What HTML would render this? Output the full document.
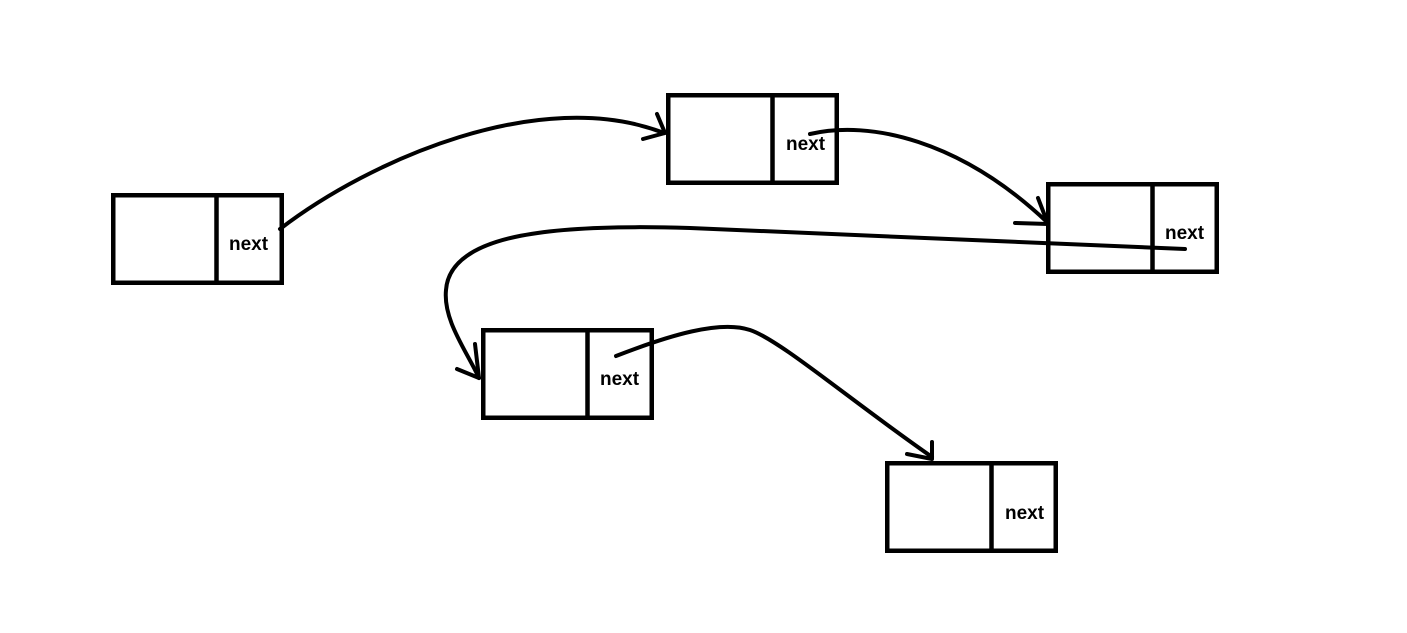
<!DOCTYPE html>
<html>
<head>
<meta charset="utf-8">
<style>
  html, body { margin: 0; padding: 0; background: #ffffff; }
  body { width: 1407px; height: 633px; overflow: hidden; }
  svg { display: block; }
  text { font-family: "Liberation Sans", sans-serif; font-weight: bold; font-size: 19px; fill: #000; }
</style>
</head>
<body>
<svg width="1407" height="633" viewBox="0 0 1407 633" xmlns="http://www.w3.org/2000/svg">
  <rect x="0" y="0" width="1407" height="633" fill="#ffffff"/>

  <!-- Boxes -->
  <g fill="none" stroke="#000" stroke-width="4.5">
    <rect x="113.25" y="195.25" width="168.5" height="87.5"/>
    <line x1="216.5" y1="195" x2="216.5" y2="283"/>

    <rect x="668.25" y="95.25" width="168.5" height="87.5"/>
    <line x1="772.5" y1="95" x2="772.5" y2="183"/>

    <rect x="1048.25" y="184.25" width="168.5" height="87.5"/>
    <line x1="1152.5" y1="184" x2="1152.5" y2="272"/>

    <rect x="483.25" y="330.25" width="168.5" height="87.5"/>
    <line x1="587.5" y1="330" x2="587.5" y2="418"/>

    <rect x="887.25" y="463.25" width="168.5" height="87.5"/>
    <line x1="991.5" y1="463" x2="991.5" y2="551"/>
  </g>

  <!-- Labels -->
  <text x="229" y="250">next</text>
  <text x="786" y="150">next</text>
  <text x="1165" y="239">next</text>
  <text x="600" y="385">next</text>
  <text x="1005" y="519">next</text>

  <!-- Connectors -->
  <g fill="none" stroke="#000" stroke-width="4" stroke-linecap="round" stroke-linejoin="round">
    <!-- 1 -> 2 -->
    <path d="M280,229 C370,160 540,85 664,133"/>
    <polyline points="657,114 665,133 643,139"/>

    <!-- 2 -> 3 -->
    <path d="M810,134 C870,120 960,140 1047,222"/>
    <polyline points="1038,198 1048,224 1015,223"/>

    <!-- 3 -> 4 -->
    <path d="M1185,249 L690,228 C560,224 450,232 446,290 C443,320 466,350 479,378"/>
    <polyline points="475,344 479,378 457,369"/>

    <!-- 4 -> 5 -->
    <path d="M616,356 C670,335 720,320 750,330 C780,340 850,400 932,457"/>
    <polyline points="932,442 932,459 907,454"/>
  </g>
</svg>
</body>
</html>
